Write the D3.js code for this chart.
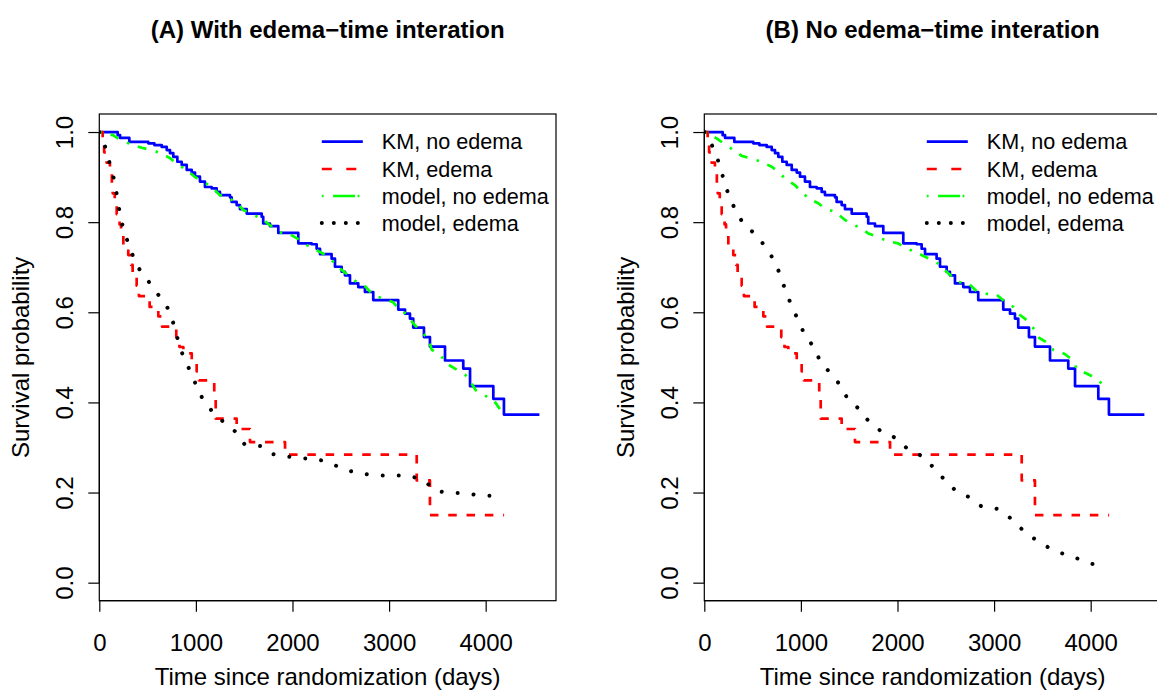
<!DOCTYPE html>
<html>
<head>
<meta charset="utf-8">
<script src="https://cdn.jsdelivr.net/npm/d3@7"></script>
<style>
  html, body { margin: 0; padding: 0; background: #fff; }
  svg text { font-family: "Liberation Sans", Arial, Helvetica, sans-serif; fill: #000; }
</style>
</head>
<body>
<svg id="chart" width="1157" height="692"></svg>
<script>
// ---- Kaplan-Meier estimates (shared by both panels) ----
const kmNoEdemaTime = [0,190,215,311,507,570,646,698,732,766,808,853,905,957,991,1042,1094,1163,1215,1249,1353,1370,1422,1456,1526,1681,1697,1767,1853,2060,2198,2250,2285,2405,2440,2509,2543,2595,2681,2750,2836,3095,3165,3216,3250,3361,3423,3579,3768,3838,4079,4189,4556];
const kmNoEdemaSurv = [1,0.993,0.987,0.978,0.975,0.971,0.967,0.960,0.953,0.945,0.934,0.927,0.916,0.910,0.901,0.890,0.878,0.875,0.867,0.860,0.855,0.845,0.838,0.829,0.819,0.812,0.797,0.791,0.776,0.753,0.751,0.741,0.729,0.719,0.701,0.690,0.682,0.664,0.656,0.645,0.627,0.606,0.597,0.586,0.566,0.545,0.524,0.493,0.475,0.436,0.408,0.373,0.373];

const kmEdemaTime = [0,35,50,76,110,130,139,160,180,210,225,249,300,330,345,387,410,521,611,650,797,830,870,957,1008,1030,1190,1205,1422,1560,1923,3286,3423,4191];
const kmEdemaSurv = [1,0.977,0.955,0.932,0.909,0.886,0.864,0.841,0.818,0.795,0.773,0.750,0.727,0.705,0.682,0.659,0.636,0.612,0.591,0.568,0.545,0.523,0.509,0.489,0.469,0.449,0.409,0.364,0.341,0.312,0.284,0.227,0.150,0.150];

// ---- Model (A): with edema-time interaction ----
const modelA_noEdemaTime = [0,142,235,328,439,542,639,732,818,905,991,1077,1163,1249,1335,1422,1491,1594,1681,1767,1853,1974,2078,2147,2230,2319,2405,2492,2578,2664,2761,2836,2940,3037,3113,3199,3250,3337,3406,3441,3537,3589,3682,3786,3845,3897,4003,4086,4151];
const modelA_noEdemaSurv = [1,0.993,0.980,0.973,0.965,0.960,0.953,0.942,0.927,0.916,0.900,0.890,0.878,0.860,0.855,0.842,0.827,0.816,0.808,0.793,0.778,0.773,0.760,0.749,0.740,0.730,0.716,0.697,0.682,0.667,0.656,0.638,0.630,0.623,0.606,0.593,0.575,0.556,0.541,0.517,0.504,0.487,0.475,0.462,0.445,0.427,0.414,0.404,0.384];

const modelA_edemaTime = [0,42,77,131,166,194,221,266,325,380,483,566,677,745,794,835,898,973,1025,1112,1194,1312,1415,1501,1671,1781,1940,2098,2261,2402,2554,2702,2868,3033,3199,3364,3475,3623,3789,3944,4110];
const modelA_edemaSurv = [1,0.987,0.950,0.916,0.880,0.845,0.808,0.773,0.739,0.705,0.678,0.649,0.624,0.591,0.555,0.521,0.488,0.456,0.422,0.398,0.371,0.353,0.334,0.308,0.303,0.286,0.280,0.276,0.274,0.264,0.250,0.242,0.238,0.238,0.238,0.227,0.204,0.199,0.199,0.193,0.193];

// ---- Model (B): no edema-time interaction ----
const modelB_noEdemaTime = [0,128,197,300,387,491,587,698,766,835,939,1008,1077,1180,1249,1353,1439,1508,1612,1698,1795,1894,2008,2084,2188,2285,2389,2460,2529,2629,2733,2820,2923,3027,3113,3199,3261,3354,3416,3468,3571,3613,3727,3820,3855,3958,4062,4130,4150];
const modelB_noEdemaSurv = [1,0.986,0.975,0.960,0.947,0.941,0.934,0.923,0.912,0.897,0.882,0.867,0.853,0.842,0.830,0.823,0.808,0.797,0.788,0.775,0.767,0.758,0.753,0.742,0.734,0.723,0.714,0.700,0.686,0.667,0.664,0.647,0.641,0.639,0.623,0.612,0.595,0.580,0.562,0.543,0.530,0.516,0.508,0.493,0.475,0.464,0.453,0.438,0.433];

const modelB_edemaTime = [0,35,104,163,204,259,328,414,546,636,732,791,846,908,977,1046,1139,1205,1312,1412,1488,1612,1702,1836,1984,2098,2243,2357,2468,2588,2730,2864,3030,3154,3275,3406,3537,3675,3834,3979,4141];
const modelB_edemaSurv = [1,0.993,0.958,0.925,0.891,0.856,0.824,0.793,0.771,0.743,0.713,0.679,0.645,0.612,0.580,0.547,0.522,0.488,0.464,0.437,0.406,0.384,0.358,0.335,0.321,0.298,0.282,0.259,0.233,0.207,0.191,0.170,0.164,0.146,0.121,0.099,0.081,0.067,0.056,0.044,0.034];

// ---- Axis ticks and text ----
const xTicks = [0, 1000, 2000, 3000, 4000];
const yTicks = [0, 0.2, 0.4, 0.6, 0.8, 1.0];
const yTickLabels = ["0.0", "0.2", "0.4", "0.6", "0.8", "1.0"];
const panelTitles = ["(A) With edema\u2212time interation", "(B) No edema\u2212time interation"];
const legendLabels = ["KM, no edema", "KM, edema", "model, no edema", "model, edema"];
const xLabel = "Time since randomization (days)";
const yLabel = "Survival probability";

const zip = (t, s) => t.map((v, i) => ({ t: v, s: s[i] }));

// line styles: KM no edema, KM edema, model no edema, model edema
const styles = [
  { color: "#0000FF", dash: null,          legendDash: null,                      width: 2.7, cap: "butt" },
  { color: "#FF0000", dash: "8.5,9.8",     legendDash: "10,14.5",                 width: 2.7, cap: "butt" },
  { color: "#00FF00", dash: "2.5,9,9,9.5", legendDash: "1.8,9.5,22,2.5,1.8,20",   width: 2.7, cap: "butt" },
  { color: "#000000", dash: "0.01,16",     legendDash: "0.01,12",                 width: 4,   cap: "round" }
];

const panels = [
  { left: 99.3, title: panelTitles[0],
    series: [zip(kmNoEdemaTime, kmNoEdemaSurv), zip(kmEdemaTime, kmEdemaSurv),
             zip(modelA_noEdemaTime, modelA_noEdemaSurv), zip(modelA_edemaTime, modelA_edemaSurv)] },
  { left: 704.3, title: panelTitles[1],
    series: [zip(kmNoEdemaTime, kmNoEdemaSurv), zip(kmEdemaTime, kmEdemaSurv),
             zip(modelB_noEdemaTime, modelB_noEdemaSurv), zip(modelB_edemaTime, modelB_edemaSurv)] }
];

const svg = d3.select("#chart");
const plotW = 456.7, plotTop = 114, plotBottom = 600.7;
const fontSize = 24, legendFont = 21.6;

panels.forEach((p, pi) => {
  const x = d3.scaleLinear().domain([0, 4728]).range([p.left, p.left + plotW]);
  const y = d3.scaleLinear().domain([-0.04, 1.04]).range([plotBottom, plotTop]);
  const g = svg.append("g");

  g.append("defs").append("clipPath").attr("id", "clip" + pi)
    .append("rect").attr("x", x.range()[0]).attr("y", plotTop)
    .attr("width", plotW).attr("height", plotBottom - plotTop);

  const plot = g.append("g").attr("clip-path", `url(#clip${pi})`);

  const stepLine = d3.line().x(d => x(d.t)).y(d => y(d.s)).curve(d3.curveStepAfter);
  const smoothLine = d3.line().x(d => x(d.t)).y(d => y(d.s));

  p.series.forEach((data, si) => {
    const st = styles[si];
    plot.append("path")
      .datum(data)
      .attr("d", si < 2 ? stepLine : smoothLine)
      .attr("fill", "none")
      .attr("stroke", st.color)
      .attr("stroke-width", st.width)
      .attr("stroke-linecap", st.cap)
      .attr("stroke-linejoin", "round")
      .attr("stroke-dasharray", st.dash);
  });

  // frame
  g.append("rect")
    .attr("x", x.range()[0]).attr("y", plotTop)
    .attr("width", plotW).attr("height", plotBottom - plotTop)
    .attr("fill", "none").attr("stroke", "#000").attr("stroke-width", 1.2);

  // x axis
  const xAxis = g.append("g").attr("transform", `translate(0,${plotBottom})`)
    .call(d3.axisBottom(x).tickValues(xTicks).tickFormat(d3.format("d"))
      .tickSize(11).tickSizeOuter(0).tickPadding(22));
  xAxis.select(".domain").remove();
  xAxis.append("line").attr("x1", x(0)).attr("x2", x(4000)).attr("stroke", "#000").attr("stroke-width", 1.2);
  xAxis.selectAll(".tick line").attr("stroke-width", 1.2);
  xAxis.selectAll(".tick text")
    .attr("font-size", fontSize).attr("font-family", "Liberation Sans, Arial, sans-serif")
    .attr("fill", "#000");

  // y axis
  const yAxis = g.append("g").attr("transform", `translate(${x.range()[0]},0)`)
    .call(d3.axisLeft(y).tickValues(yTicks).tickFormat((d, i) => yTickLabels[i])
      .tickSize(11).tickSizeOuter(0));
  yAxis.select(".domain").remove();
  yAxis.append("line").attr("y1", y(0)).attr("y2", y(1)).attr("stroke", "#000").attr("stroke-width", 1.2);
  yAxis.selectAll(".tick line").attr("stroke-width", 1.2);
  yAxis.selectAll(".tick text")
    .attr("font-size", fontSize).attr("font-family", "Liberation Sans, Arial, sans-serif")
    .attr("fill", "#000")
    .attr("text-anchor", "middle")
    .attr("x", 0).attr("y", -26).attr("dy", 0)
    .attr("transform", "rotate(-90)");

  const cx = x.range()[0] + plotW / 2;

  // title
  g.append("text").attr("x", cx).attr("y", 38)
    .attr("text-anchor", "middle").attr("font-size", fontSize).attr("font-weight", "bold")
    .text(p.title);

  // axis titles
  g.append("text").attr("x", cx).attr("y", 685)
    .attr("text-anchor", "middle").attr("font-size", fontSize).text(xLabel);
  g.append("text")
    .attr("transform", `translate(${x.range()[0] - 70},${(y(0) + y(1)) / 2}) rotate(-90)`)
    .attr("text-anchor", "middle").attr("font-size", fontSize).text(yLabel);

  // legend
  const lx = x.range()[0] + 222.5;
  const rowsY = [141.7, 169, 196, 223];
  legendLabels.forEach((lab, li) => {
    const st = styles[li];
    g.append("line")
      .attr("x1", lx).attr("x2", lx + 41)
      .attr("y1", rowsY[li]).attr("y2", rowsY[li])
      .attr("stroke", st.color).attr("stroke-width", st.width)
      .attr("stroke-linecap", st.cap)
      .attr("stroke-dasharray", st.legendDash);
    g.append("text")
      .attr("x", lx + 60).attr("y", rowsY[li]).attr("dy", "0.36em")
      .attr("font-size", legendFont).text(lab);
  });
});
</script>
</body>
</html>
